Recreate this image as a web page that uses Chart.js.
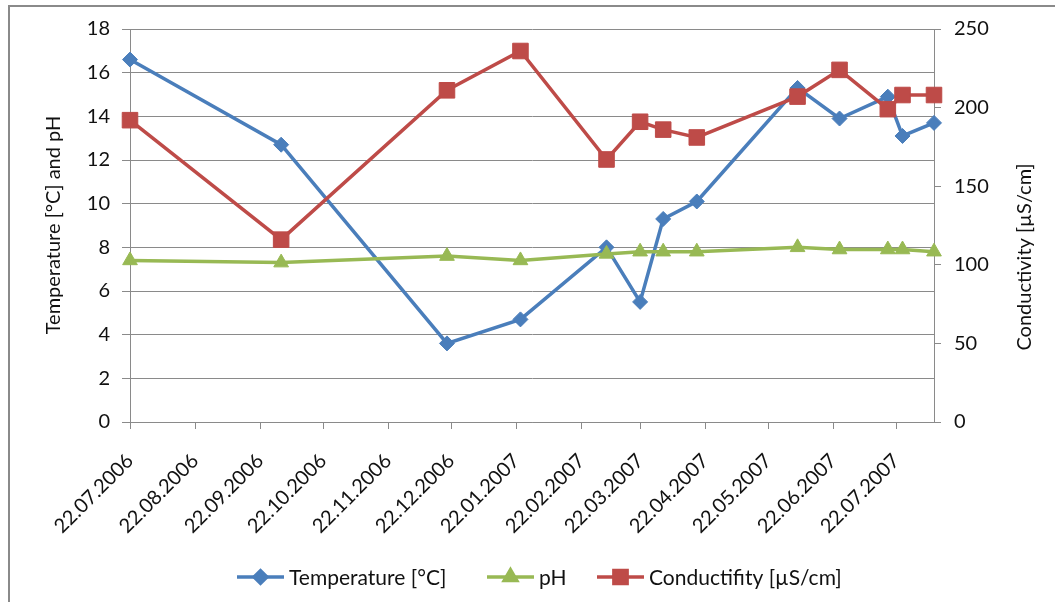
<!DOCTYPE html>
<html>
<head>
<meta charset="utf-8">
<script src="https://cdn.jsdelivr.net/npm/chart.js@4.4.1/dist/chart.umd.min.js"></script>
<style>
  html, body { margin: 0; padding: 0; background: #fff; }
  #wrap { width: 1055px; height: 602px; }
</style>
</head>
<body>
<div id="wrap"><canvas id="grafico" width="1055" height="602"></canvas></div>
<script>
// fechas de muestreo (dd.mm.yyyy)
const sampleDates = ['22.07.2006', '02.10.2006', '20.12.2006', '24.01.2007', '06.03.2007', '22.03.2007',
    '02.04.2007', '18.04.2007', '05.06.2007', '25.06.2007', '18.07.2007', '25.07.2007', '09.08.2007'];
const temperature = [16.6, 12.7, 3.6, 4.7, 8.0, 5.5, 9.3, 10.1, 15.3, 13.9, 14.9, 13.1, 13.7];
const ph = [7.4, 7.3, 7.6, 7.4, 7.7, 7.8, 7.8, 7.8, 8.0, 7.9, 7.9, 7.9, 7.8];
const conductivity = [192, 116, 211, 236, 167, 191, 186, 181, 207, 224, 199, 208, 208];

// etiquetas del eje x
const dateTicks = ['22.07.2006', '22.08.2006', '22.09.2006', '22.10.2006', '22.11.2006', '22.12.2006',
    '22.01.2007', '22.02.2007', '22.03.2007', '22.04.2007', '22.05.2007', '22.06.2007', '22.07.2007'];

const FONT = 'Lato';
const colores = { temp: '#4A7EBB', ph: '#98B954', cond: '#BE4B48' };

// pasar 'dd.mm.yyyy' a dias desde la primera fecha
function dayOf(s) {
    const p = s.split('.');
    const t = Date.UTC(+p[2], +p[1] - 1, +p[0]);
    const p0 = sampleDates[0].split('.');
    return (t - Date.UTC(+p0[2], +p0[1] - 1, +p0[0])) / 86400000;
}

function puntos(valores) {
    return valores.map((v, i) => ({ x: dayOf(sampleDates[i]), y: v }));
}

const series = [
    { label: 'Temperature [°C]', data: temperature, color: colores.temp, style: 'rectRot', radius: 7.5, axis: 'y', order: 2 },
    { label: 'pH', data: ph, color: colores.ph, style: 'triangle', radius: 8.5, axis: 'y', order: 1 },
    { label: 'Conductifity [µS/cm]', data: conductivity, color: colores.cond, style: 'rect', radius: 11, axis: 'y2', order: 0 }
];

// marco, titulos de ejes y leyenda
const decoracion = {
    id: 'decoracion',
    afterDraw(chart) {
        const ctx = chart.ctx;
        ctx.save();
        // marco exterior
        ctx.strokeStyle = '#8a8a8a';
        ctx.lineWidth = 2;
        ctx.strokeRect(9, 6, 1200, 800);

        ctx.fillStyle = '#111';
        ctx.font = '20px ' + FONT;
        ctx.textAlign = 'center';
        ctx.textBaseline = 'middle';
        // titulo eje izquierdo
        ctx.save();
        ctx.translate(54, 225);
        ctx.rotate(-Math.PI / 2);
        ctx.fillText('Temperature [°C] and pH', 0, 0);
        ctx.restore();
        // titulo eje derecho
        ctx.save();
        ctx.translate(1025, 257);
        ctx.rotate(-Math.PI / 2);
        ctx.fillText('Conductivity [µS/cm]', 0, 0);
        ctx.restore();

        // leyenda
        const y = 577;
        const xs = [237, 487, 597];
        ctx.font = '21px ' + FONT;
        ctx.textAlign = 'left';
        series.forEach((s, i) => {
            const x = xs[i];
            ctx.strokeStyle = s.color;
            ctx.lineWidth = 3.5;
            ctx.beginPath();
            ctx.moveTo(x, y);
            ctx.lineTo(x + 47, y);
            ctx.stroke();
            ctx.fillStyle = s.color;
            Chart.helpers.drawPoint(ctx, { pointStyle: s.style, radius: s.radius * 0.85, rotation: 0, borderWidth: 1 }, x + 23.5, y);
            ctx.fillStyle = '#111';
            ctx.fillText(s.label, x + 52, y + 1);
        });
        ctx.restore();
    }
};

const ctx = document.getElementById('grafico').getContext('2d');
new Chart(ctx, {
    type: 'line',
    data: {
        datasets: series.map(s => ({
            label: s.label,
            data: puntos(s.data),
            yAxisID: s.axis,
            order: s.order,
            borderColor: s.color,
            backgroundColor: s.color,
            pointBackgroundColor: s.color,
            pointBorderColor: s.color,
            pointStyle: s.style,
            pointRadius: s.radius,
            pointBorderWidth: 1,
            borderWidth: 3.5,
            tension: 0,
            clip: false
        }))
    },
    plugins: [decoracion],
    options: {
        responsive: false,
        animation: false,
        layout: { padding: { top: 29, left: 0, right: 0, bottom: 0 } },
        plugins: { legend: { display: false }, tooltip: { enabled: false } },
        scales: {
            x: {
                type: 'linear',
                min: dayOf(sampleDates[0]),
                max: dayOf(sampleDates[sampleDates.length - 1]),
                afterBuildTicks: scale => {
                    scale.ticks = dateTicks.map(s => ({ value: dayOf(s) }));
                },
                afterFit: scale => { scale.height = 180; },
                grid: { drawOnChartArea: false, color: '#8a8a8a', tickLength: 7 },
                border: { color: '#8a8a8a', width: 1 },
                ticks: {
                    autoSkip: false,
                    minRotation: 45,
                    maxRotation: 45,
                    padding: 20,
                    color: '#111',
                    font: { family: FONT, size: 20 },
                    callback: (v, i) => dateTicks[i]
                }
            },
            y: {
                position: 'left',
                min: 0,
                max: 18,
                afterFit: scale => { scale.width = 130; },
                grid: { color: '#8a8a8a', tickLength: 8 },
                border: { color: '#8a8a8a', width: 1 },
                ticks: { stepSize: 2, padding: 12, color: '#111', font: { family: FONT, size: 20 } }
            },
            y2: {
                position: 'right',
                min: 0,
                max: 250,
                afterFit: scale => { scale.width = 121; },
                grid: { drawOnChartArea: false, color: '#8a8a8a', tickLength: 7 },
                border: { color: '#8a8a8a', width: 1 },
                ticks: { stepSize: 50, padding: 13, color: '#111', font: { family: FONT, size: 20 } }
            }
        }
    }
});
</script>
</body>
</html>
